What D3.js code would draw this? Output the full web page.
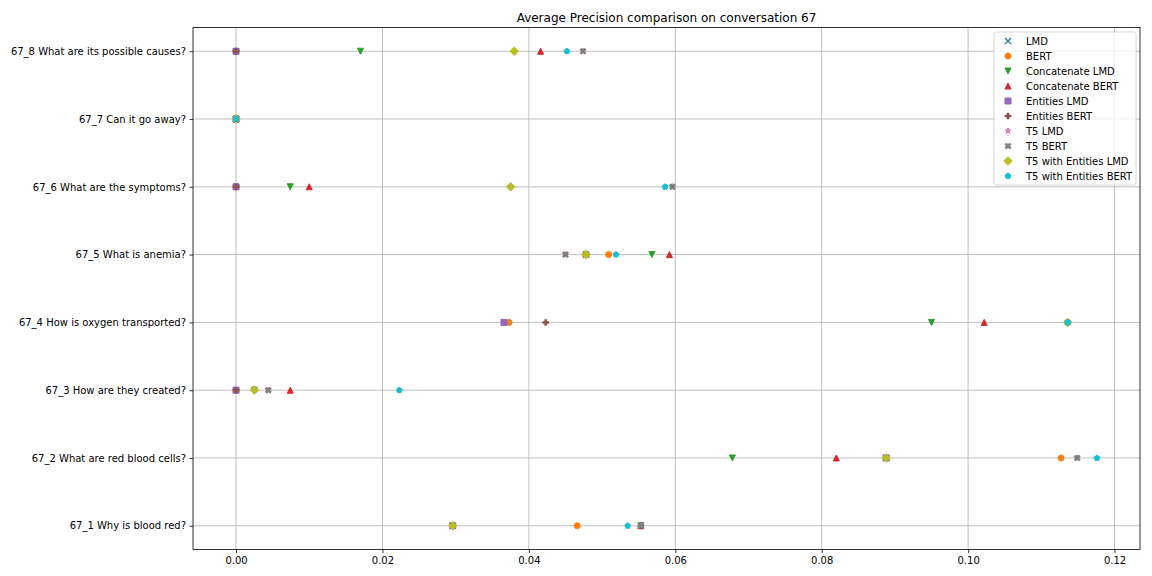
<!DOCTYPE html>
<html><head><meta charset="utf-8">
<script src="https://cdn.jsdelivr.net/npm/d3@7"></script>
<style>body{margin:0;background:#fff}text{font-family:"DejaVu Sans",sans-serif}</style>
</head><body><svg id="c" width="1152" height="576"></svg>
<script>
const categories = ["67_1 Why is blood red?","67_2 What are red blood cells?","67_3 How are they created?","67_4 How is oxygen transported?","67_5 What is anemia?","67_6 What are the symptoms?","67_7 Can it go away?","67_8 What are its possible causes?"];
const seriesNames = ["LMD","BERT","Concatenate LMD","Concatenate BERT","Entities LMD","Entities BERT","T5 LMD","T5 BERT","T5 with Entities LMD","T5 with Entities BERT"];
const seriesColors = ["#1f77b4","#ff7f0e","#2ca02c","#d62728","#9467bd","#8c564b","#e377c2","#7f7f7f","#bcbd22","#17becf"];
const seriesMarkers = ["x","o","v","^","s","P","*","X","D","p"];
// values per series, in category order 67_1 .. 67_8
const lmd        = [0.0296,0.0888,0.0,   0.0366,0.0478,0.0,   0.0,0.0];
const bert       = [0.0466,0.1127,0.0,   0.0373,0.0509,0.0,   0.0,0.0];
const concatLmd  = [0.0553,0.0678,0.0025,0.0950,0.0568,0.0074,0.0,0.0170];
const concatBert = [0.0553,0.0820,0.0074,0.1022,0.0592,0.0100,0.0,0.0416];
const entLmd     = [0.0296,0.0888,0.0,   0.0366,0.0478,0.0,   0.0,0.0];
const entBert    = [0.0553,0.0888,0.0,   0.0423,0.0478,0.0,   0.0,0.0];
const t5Lmd      = [0.0553,0.1149,0.0044,0.1136,0.0450,0.0596,0.0,0.0474];
const t5Bert     = [0.0553,0.1149,0.0044,0.1136,0.0450,0.0596,0.0,0.0474];
const t5EntLmd   = [0.0296,0.0888,0.0025,0.1136,0.0478,0.0375,0.0,0.0380];
const t5EntBert  = [0.0535,0.1176,0.0223,0.1136,0.0519,0.0586,0.0,0.0452];
const seriesValues = [lmd,bert,concatLmd,concatBert,entLmd,entBert,t5Lmd,t5Bert,t5EntLmd,t5EntBert];
const xTicks = [0.00,0.02,0.04,0.06,0.08,0.10,0.12];
const title = "Average Precision comparison on conversation 67";

const svg = d3.select("#c");
const L=193, R=1140, T=27.5, B=549.5;
const allV = seriesValues.flat();
const vmin = d3.min(allV), vmax = d3.max(allV), m=(vmax-vmin)*0.05;
const x = d3.scaleLinear().domain([vmin-m, vmax+m]).range([L,R]);
const n = categories.length, my=(n-1)*0.05;
const y = d3.scaleLinear().domain([-my, n-1+my]).range([B,T]);

// grid
const g = svg.append("g");
g.selectAll(".gx").data(xTicks).join("line").attr("x1",d=>x(d)).attr("x2",d=>x(d)).attr("y1",T).attr("y2",B).attr("stroke","#b0b0b0").attr("stroke-width",0.8);
g.selectAll(".gy").data(categories).join("line").attr("y1",(d,i)=>y(i)).attr("y2",(d,i)=>y(i)).attr("x1",L).attr("x2",R).attr("stroke","#b0b0b0").attr("stroke-width",0.8);

// axes
const xa = svg.append("g").attr("transform",`translate(0,${B})`).call(d3.axisBottom(x).tickValues(xTicks).tickFormat(d3.format(".2f")).tickSize(3.5).tickPadding(3.5));
const ya = svg.append("g").attr("transform",`translate(${L},0)`).call(d3.axisLeft(y).tickValues(d3.range(n)).tickFormat(i=>categories[i]).tickSize(3.5).tickPadding(3.5));
[xa,ya].forEach(a=>{a.select(".domain").remove();a.selectAll("line").attr("stroke","#000").attr("stroke-width",0.8);a.selectAll("text").attr("font-size",10).attr("fill","#000").attr("font-family","DejaVu Sans");});
svg.append("rect").attr("x",L).attr("y",T).attr("width",R-L).attr("height",B-T).attr("fill","none").attr("stroke","#000").attr("stroke-width",0.8);

// marker paths (size 6)
function markerPath(mk){
  const s=3;
  switch(mk){
    case "x": return `M${-s},${-s}L${s},${s}M${-s},${s}L${s},${-s}`;
    case "o": return d3.symbol(d3.symbolCircle, Math.PI*9)();
    case "v": return `M0,${s}L${-s},${-s}L${s},${-s}Z`;
    case "^": return `M0,${-s}L${-s},${s}L${s},${s}Z`;
    case "s": return `M${-s},${-s}H${s}V${s}H${-s}Z`;
    case "P": { const a=1; return `M${-a},${-s}H${a}V${-a}H${s}V${a}H${a}V${s}H${-a}V${a}H${-s}V${-a}H${-a}Z`; }
    case "*": { let p=""; for(let i=0;i<10;i++){const r=i%2?s*0.381966:s; const ang=-Math.PI/2+i*Math.PI/5; p+=(i?"L":"M")+(r*Math.cos(ang)).toFixed(3)+","+(r*Math.sin(ang)).toFixed(3);} return p+"Z"; }
    case "X": { const a=s*0.5, b=s;
      const pts=[[0,-a*0.9],[b-a,-b],[b,-(b-a)],[a*0.9,0],[b,b-a],[b-a,b],[0,a*0.9],[-(b-a),b],[-b,b-a],[-a*0.9,0],[-b,-(b-a)],[-(b-a),-b]];
      return "M"+pts.map(p=>p.join(",")).join("L")+"Z"; }
    case "D": { const d=s*Math.SQRT2; return `M0,${-d}L${d},0L0,${d}L${-d},0Z`; }
    case "p": { let p=""; for(let i=0;i<5;i++){const ang=-Math.PI/2+i*2*Math.PI/5; p+=(i?"L":"M")+(s*Math.cos(ang)).toFixed(3)+","+(s*Math.sin(ang)).toFixed(3);} return p+"Z"; }
  }
}
function drawMarker(sel, mk, col){
  sel.attr("d",markerPath(mk));
  if(mk==="x") sel.attr("fill","none").attr("stroke",col).attr("stroke-width",1.2);
  else sel.attr("fill",col).attr("stroke",col).attr("stroke-width",mk==="P"?0.6:1).attr("stroke-linejoin","miter");
}

seriesValues.forEach((vals,si)=>{
  svg.append("g").selectAll("path").data(vals).join("path")
    .attr("transform",(d,i)=>`translate(${x(d)},${y(i)})`)
    .each(function(){drawMarker(d3.select(this),seriesMarkers[si],seriesColors[si]);});
});

// title
svg.append("text").attr("x",(L+R)/2).attr("y",T-6).attr("text-anchor","middle").attr("font-size",12).text(title);

// legend
const lg = svg.append("g");
const lx=994, ly=32, lw=142, lh=153;
lg.append("rect").attr("x",lx).attr("y",ly).attr("width",lw).attr("height",lh).attr("rx",2.5).attr("fill","#fff").attr("fill-opacity",0.8).attr("stroke","#cccccc").attr("stroke-width",0.8);
seriesNames.forEach((nm,i)=>{
  const yy = ly+9+i*15;
  lg.append("path").attr("transform",`translate(${lx+14},${yy})`).call(s=>drawMarker(s,seriesMarkers[i],seriesColors[i]));
  lg.append("text").attr("x",lx+32).attr("y",yy).attr("dy","0.36em").attr("font-size",10).text(nm);
});
</script></body></html>
